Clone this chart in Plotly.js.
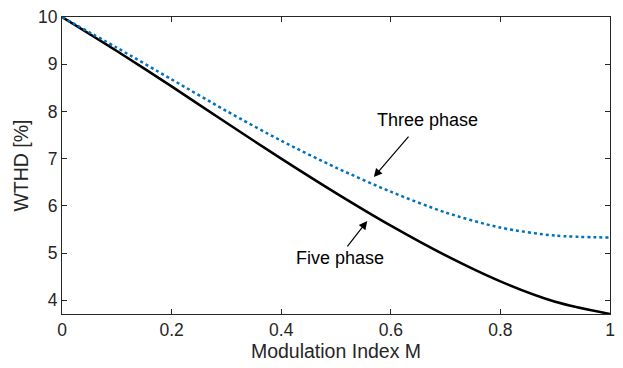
<!DOCTYPE html>
<html>
<head>
<meta charset="utf-8">
<script src="https://cdn.plot.ly/plotly-3.0.1.min.js"></script>
<style>html,body{margin:0;padding:0;background:#fff;}#chart{width:623px;height:368px;}</style>
</head>
<body>
<div id="chart"></div>
<script>
const modulationIndex = [0, 0.1, 0.2, 0.3, 0.4, 0.5, 0.6, 0.7, 0.8, 0.9, 1.0];
const fivePhaseWTHD  = [10, 9.28, 8.53, 7.76, 7.00, 6.27, 5.58, 4.95, 4.40, 3.97, 3.71];
const threePhaseWTHD = [10, 9.35, 8.68, 8.01, 7.38, 6.81, 6.30, 5.86, 5.54, 5.37, 5.33];
const xTicks = [0, 0.2, 0.4, 0.6, 0.8, 1];
const yTicks = [4, 5, 6, 7, 8, 9, 10];

const FONT = 'Liberation Sans, Arial, sans-serif';
const traces = [
  {x: modulationIndex, y: fivePhaseWTHD, mode: 'lines', name: 'Five phase',
   line: {color: '#000000', width: 2.5, shape: 'spline', smoothing: 0.8}},
  {x: modulationIndex, y: threePhaseWTHD, mode: 'lines', name: 'Three phase',
   line: {color: '#0072BD', width: 2.5, dash: 'dot', shape: 'spline', smoothing: 0.8}}
];
const axisCommon = {
  showgrid: false, zeroline: false, showline: true, mirror: 'ticks',
  linecolor: '#262626', linewidth: 1, ticks: 'inside', ticklen: 5, tickwidth: 1,
  tickcolor: '#262626', tickfont: {family: FONT, size: 17.5, color: '#262626'}
};
const layout = {
  width: 623, height: 368,
  margin: {l: 62, r: 13, t: 17, b: 54},
  paper_bgcolor: '#fff', plot_bgcolor: '#fff',
  showlegend: false,
  xaxis: Object.assign({}, axisCommon, {
    range: [0, 1], tickvals: xTicks, ticktext: xTicks.map(String),
    title: {text: 'Modulation Index M', font: {family: FONT, size: 19.5, color: '#262626'}, standoff: 4}
  }),
  yaxis: Object.assign({}, axisCommon, {
    range: [3.71, 10], tickvals: yTicks, ticktext: yTicks.map(String),
    title: {text: 'WTHD [%]', font: {family: FONT, size: 19.5, color: '#262626'}, standoff: 4}
  }),
  annotations: [
    {x: 0.667, y: 7.81, xref: 'x', yref: 'y', text: 'Three phase', showarrow: false,
     font: {family: FONT, size: 18, color: '#000'}},
    {x: 0.508, y: 4.90, xref: 'x', yref: 'y', text: 'Five phase', showarrow: false,
     font: {family: FONT, size: 18, color: '#000'}},
    {x: 0.569, y: 6.61, xref: 'x', yref: 'y', text: '', showarrow: true,
     ax: 36, ay: -42, arrowhead: 2, arrowsize: 1.4, arrowwidth: 1.2, arrowcolor: '#000', standoff: 0},
    {x: 0.557, y: 5.68, xref: 'x', yref: 'y', text: '', showarrow: true,
     ax: -21, ay: 27, arrowhead: 2, arrowsize: 1.4, arrowwidth: 1.2, arrowcolor: '#000', standoff: 0}
  ]
};
Plotly.newPlot('chart', traces, layout, {displayModeBar: false, staticPlot: true});
</script>
</body>
</html>
